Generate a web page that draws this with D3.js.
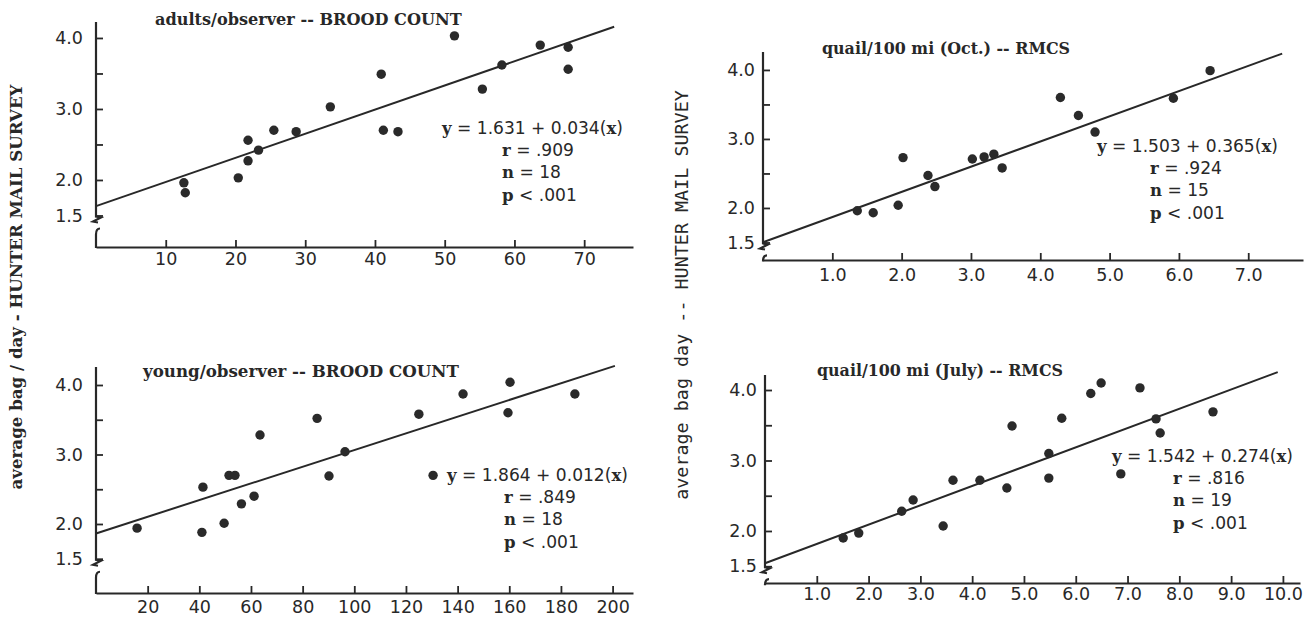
<!DOCTYPE html>
<html>
<head>
<meta charset="utf-8">
<script src="https://cdn.jsdelivr.net/npm/d3@7"></script>
<style>
  body { margin: 0; background: #fff; }
</style>
</head>
<body>
<svg id="chart" width="1316" height="619"></svg>
<script>
// values
const adultsX = [12.6, 12.8, 20.4, 21.8, 21.8, 23.3, 25.5, 28.7, 33.6, 40.9, 41.2, 43.3, 51.4, 55.4, 58.2, 63.7, 67.7, 67.7];
const adultsY = [1.96, 1.82, 2.03, 2.56, 2.27, 2.42, 2.70, 2.68, 3.03, 3.49, 2.70, 2.68, 4.03, 3.28, 3.62, 3.90, 3.87, 3.56];

const youngX = [15.9, 41.0, 41.4, 49.6, 51.5, 53.8, 56.3, 61.2, 63.5, 85.6, 90.2, 96.4, 125.0, 130.5, 142.1, 159.5, 160.3, 185.4];
const youngY = [1.94, 1.88, 2.53, 2.01, 2.70, 2.70, 2.29, 2.40, 3.28, 3.52, 2.69, 3.04, 3.58, 2.70, 3.87, 3.60, 4.04, 3.87];

const octX = [1.36, 1.59, 1.95, 2.02, 2.38, 2.48, 3.02, 3.19, 3.33, 3.45, 4.29, 4.55, 4.79, 5.92, 6.45];
const octY = [1.96, 1.93, 2.04, 2.73, 2.47, 2.31, 2.71, 2.74, 2.78, 2.58, 3.60, 3.34, 3.10, 3.59, 3.99];

const julyX = [1.51, 1.81, 2.64, 2.86, 3.44, 3.63, 4.15, 4.67, 4.77, 5.48, 5.48, 5.73, 6.29, 6.49, 6.87, 7.24, 7.55, 7.63, 8.65];
const julyY = [1.90, 1.97, 2.28, 2.44, 2.07, 2.72, 2.72, 2.61, 3.49, 3.10, 2.75, 3.60, 3.95, 4.10, 2.81, 4.03, 3.59, 3.39, 3.69];

// regression results printed on each plot
const intercepts = [1.631, 1.864, 1.503, 1.542];
const slopes = [0.034, 0.012, 0.365, 0.274];
const rValues = ['.909', '.849', '.924', '.816'];
const nValues = [18, 18, 15, 19];
const pValues = ['.001', '.001', '.001', '.001'];
const fitEnds = [74.3, 200.9, 7.49, 9.9];

const titles = [
  'adults/observer -- BROOD COUNT',
  'young/observer -- BROOD COUNT',
  'quail/100 mi (Oct.) -- RMCS',
  'quail/100 mi (July) -- RMCS'
];

// ticks
const adultsTicks = [10, 20, 30, 40, 50, 60, 70];
const youngTicks = [20, 40, 60, 80, 100, 120, 140, 160, 180, 200];
const octTicks = [1, 2, 3, 4, 5, 6, 7];
const julyTicks = [1, 2, 3, 4, 5, 6, 7, 8, 9, 10];
const yTicks = [1.5, 2, 2.5, 3, 3.5, 4];
const yTickLabels = ['1.5', '2.0', '', '3.0', '', '4.0'];

const yLabelLeft = 'average bag / day - HUNTER MAIL SURVEY';
const yLabelRight = 'average bag   day -- HUNTER MAIL SURVEY';

const ink = '#282828';
const numFont = "'DejaVu Sans', sans-serif";
const slabFont = "'DejaVu Serif', serif";

// page layout of each panel
const panels = [
  { xs: adultsX, ys: adultsY, xTicks: adultsTicks, fmt: d3.format('d'),
    xMax: 77, yMin: 1.056, yMax: 4.225,
    left: 96, right: 633, top: 22, bottom: 247, xPad: 6, yPad: 13,
    titleX: 155, titleY: 25, titleW: 307,
    eqX: 442, restX: 502, statY: 134 },
  { xs: youngX, ys: youngY, xTicks: youngTicks, fmt: d3.format('d'),
    xMax: 207.9, yMin: 1.007, yMax: 4.259,
    left: 96, right: 633, top: 367, bottom: 593, xPad: 8, yPad: 13,
    titleX: 143, titleY: 377, titleW: 316,
    eqX: 447, restX: 504, statY: 481 },
  { xs: octX, ys: octY, xTicks: octTicks, fmt: d3.format('.1f'),
    xMax: 7.79, yMin: 1.246, yMax: 4.26,
    left: 763, right: 1303, top: 52, bottom: 260, xPad: 9, yPad: 8,
    titleX: 822, titleY: 54, titleW: 248,
    eqX: 1097, restX: 1150, statY: 152 },
  { xs: julyX, ys: julyY, xTicks: julyTicks, fmt: d3.format('.1f'),
    xMax: 10.33, yMin: 1.262, yMax: 4.213,
    left: 765, right: 1300, top: 375, bottom: 583, xPad: 5, yPad: 8,
    titleX: 817, titleY: 376, titleW: 246,
    eqX: 1112, restX: 1173, statY: 462 }
];

const svg = d3.select('#chart');
svg.append('rect').attr('width', 1316).attr('height', 619).attr('fill', '#fff');

function fitWidth(sel, w) {
  const cur = sel.node().getComputedTextLength();
  const fs = parseFloat(sel.attr('font-size'));
  sel.attr('font-size', (fs * w / cur).toFixed(2));
}

function statLine(g, x, y, parts) {
  const t = g.append('text').attr('class', 'stat').attr('x', x).attr('y', y).attr('fill', ink);
  parts.forEach(([s, bold]) => {
    t.append('tspan')
      .attr('font-family', bold ? slabFont : numFont)
      .attr('font-weight', bold ? 'bold' : 'normal')
      .attr('font-size', bold ? 15 : 15.5)
      .text(s);
  });
  return t;
}

panels.forEach((p, i) => {
  const x = d3.scaleLinear().domain([0, p.xMax]).range([p.left, p.right]);
  const y = d3.scaleLinear().domain([p.yMin, p.yMax]).range([p.bottom, p.top]);
  const g = svg.append('g');

  // x axis, ticks pointing up
  g.append('g')
    .attr('transform', `translate(0,${p.bottom})`)
    .call(d3.axisBottom(x).tickValues(p.xTicks).tickFormat(p.fmt)
      .tickSizeInner(-7).tickSizeOuter(0).tickPadding(p.xPad))
    .call(a => a.select('.domain').attr('stroke', ink).attr('stroke-width', 2.2))
    .call(a => a.selectAll('.tick line').attr('stroke', ink).attr('stroke-width', 1.8))
    .call(a => a.selectAll('.tick text').attr('fill', ink)
      .attr('font-family', numFont).attr('font-size', 17.5));

  // y axis, ticks pointing in, axis line drawn by hand for the break
  g.append('g')
    .attr('transform', `translate(${p.left},0)`)
    .call(d3.axisLeft(y).tickValues(yTicks).tickFormat((d, k) => yTickLabels[k])
      .tickSizeInner(-7).tickSizeOuter(0).tickPadding(p.yPad))
    .call(a => a.select('.domain').remove())
    .call(a => a.selectAll('.tick line').attr('stroke', ink).attr('stroke-width', 1.8))
    .call(a => a.selectAll('.tick text').attr('fill', ink)
      .attr('font-family', numFont).attr('font-size', 17.5));

  const ax = p.left, yb = y(1.5);
  g.append('path')
    .attr('d', `M${ax},${p.top} L${ax},${yb + 1} L${ax + 5},${yb + 2} L${ax - 3},${yb + 6} L${ax + 2},${yb + 7}`)
    .attr('fill', 'none').attr('stroke', ink).attr('stroke-width', 2.2);
  g.append('path')
    .attr('d', `M${ax + 4},${yb + 13} Q${ax},${yb + 13} ${ax},${yb + 19} L${ax},${p.bottom + 1}`)
    .attr('fill', 'none').attr('stroke', ink).attr('stroke-width', 2.2);

  // fitted line
  const a = intercepts[i], b = slopes[i];
  g.append('line')
    .attr('x1', x(0)).attr('y1', y(a))
    .attr('x2', x(fitEnds[i])).attr('y2', y(a + b * fitEnds[i]))
    .attr('stroke', ink).attr('stroke-width', 2);

  // points
  g.selectAll('circle')
    .data(p.xs.map((v, k) => [v, p.ys[k]]))
    .join('circle')
    .attr('cx', d => x(d[0]))
    .attr('cy', d => y(d[1]))
    .attr('r', 4.7)
    .attr('fill', '#2a2a2a');

  // title
  const t = g.append('text')
    .attr('x', p.titleX).attr('y', p.titleY)
    .attr('fill', ink)
    .attr('font-family', slabFont).attr('font-weight', 'bold').attr('font-size', 14)
    .text(titles[i]);
  fitWidth(t, p.titleW);

  // stats block, scaled so the equation spans its width in the reference
  const fA = d3.format('.3f');
  const eq = statLine(g, p.eqX, p.statY, [['y', 1], [' = ', 0], [`${fA(a)} + ${fA(b)}(`, 0], ['x', 1], [')', 0]]);
  statLine(g, p.restX, p.statY + 22, [['r', 1], [' = ', 0], [rValues[i], 0]]);
  statLine(g, p.restX, p.statY + 44, [['n', 1], [' = ', 0], [String(nValues[i]), 0]]);
  statLine(g, p.restX, p.statY + 67, [['p', 1], [' < ', 0], [pValues[i], 0]]);
  const k = 181 / eq.node().getComputedTextLength();
  g.selectAll('text.stat tspan').attr('font-size', function () {
    return (parseFloat(d3.select(this).attr('font-size')) * k).toFixed(2);
  });
});

// rotated axis titles
const lt = svg.append('text')
  .attr('transform', 'translate(22,287) rotate(-90)')
  .attr('text-anchor', 'middle')
  .attr('fill', ink)
  .attr('font-family', slabFont).attr('font-weight', 'bold').attr('font-size', 15)
  .text(yLabelLeft);
fitWidth(lt, 405);

const rt = svg.append('text')
  .attr('transform', 'translate(688,295) rotate(-90)')
  .attr('text-anchor', 'middle')
  .attr('fill', ink)
  .attr('font-family', "'DejaVu Sans Mono', monospace").attr('font-size', 14)
  .text(yLabelRight);
fitWidth(rt, 410);
</script>
</body>
</html>
